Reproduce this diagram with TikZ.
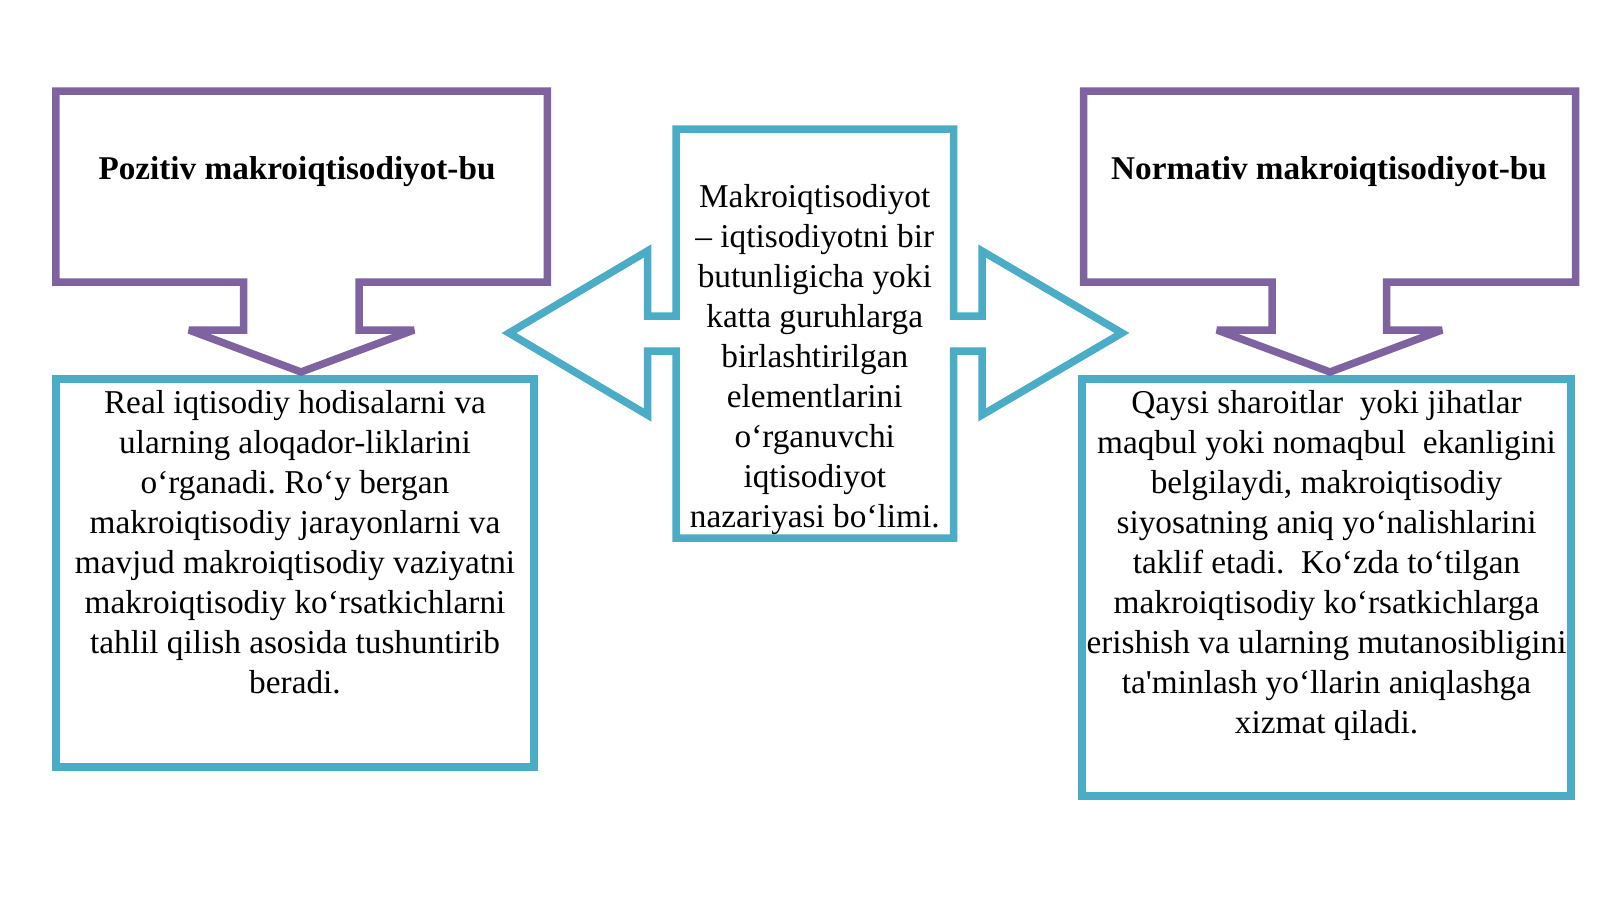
\documentclass[tikz,border=0pt]{standalone}
\usepackage{fontspec}
\setmainfont{Liberation Serif}
\definecolor{purp}{HTML}{7F63A1}
\definecolor{aqua}{HTML}{4BACC6}
\frenchspacing
\begin{document}
\begin{tikzpicture}[x=1pt,y=-1pt,line join=miter,miter limit=2.5,
  pshape/.style={draw=purp,line width=7.5pt,fill=white},
  ashape/.style={draw=aqua,line width=7.5pt,fill=white},
  body/.style={font=\fontsize{33.3}{40}\selectfont,align=center,inner sep=0pt,text=black},
  head/.style={font=\fontsize{33.2}{40}\selectfont\bfseries,inner sep=0pt,text=black}]
\useasboundingbox (0,0) rectangle (1600,899);
\fill[white] (0,0) rectangle (1600,899);

% lower text boxes
\draw[ashape] (56,379) rectangle (534,767);
\draw[ashape] (1082,379) rectangle (1571,796);

% left callout
\draw[pshape] (55.75,91) -- (547.25,91) -- (547.25,282) -- (359,282) -- (359,330)
  -- (414,330) -- (301,372) -- (189,330) -- (243.5,330) -- (243.5,282)
  -- (55.75,282) -- cycle;
% right callout
\draw[pshape] (1083.5,91) -- (1575.5,91) -- (1575.5,282) -- (1386.5,282) -- (1386.5,330)
  -- (1442,330) -- (1330,372) -- (1217,330) -- (1272,330) -- (1272,282)
  -- (1083.5,282) -- cycle;

% central left-right arrow callout
\draw[ashape] (676,129) -- (953.5,129) -- (953.5,316) -- (982,316) -- (982,251)
  -- (1122,333) -- (982,415) -- (982,351) -- (953.5,351) -- (953.5,538)
  -- (676,538) -- (676,351) -- (647.5,351) -- (647.5,415) -- (509,333)
  -- (647.5,251) -- (647.5,316) -- (676,316) -- cycle;

% texts
\node[head,anchor=base] (lhead) at (297,179) {Pozitiv makroiqtisodiyot-bu};
\node[head,anchor=base] (rhead) at (1329,179) {Normativ makroiqtisodiyot-bu};

\node[body,anchor=north] (ctext) at (814.75,184.3) {Makroiqtisodiyot\\
– iqtisodiyotni bir\\
butunligicha yoki\\
katta guruhlarga\\
birlashtirilgan\\
elementlarini\\
o‘rganuvchi\\
iqtisodiyot\\
nazariyasi bo‘limi.};

\node[body,anchor=north] (ltext) at (295,390.3) {Real iqtisodiy hodisalarni va\\
ularning aloqador-liklarini\\
o‘rganadi. Ro‘y bergan\\
makroiqtisodiy jarayonlarni va\\
mavjud makroiqtisodiy vaziyatni\\
makroiqtisodiy ko‘rsatkichlarni\\
tahlil qilish asosida tushuntirib\\
beradi.};

\node[body,anchor=north] (rtext) at (1326.5,390.3) {Qaysi sharoitlar\ \ yoki jihatlar\\
maqbul yoki nomaqbul\ \ ekanligini\\
belgilaydi, makroiqtisodiy\\
siyosatning aniq yo‘nalishlarini\\
taklif etadi.\ \ Ko‘zda to‘tilgan\\
makroiqtisodiy ko‘rsatkichlarga\\
erishish va ularning mutanosibligini\\
ta\textquotesingle minlash yo‘llarin aniqlashga\\
xizmat qiladi.};
\end{tikzpicture}
\end{document}
